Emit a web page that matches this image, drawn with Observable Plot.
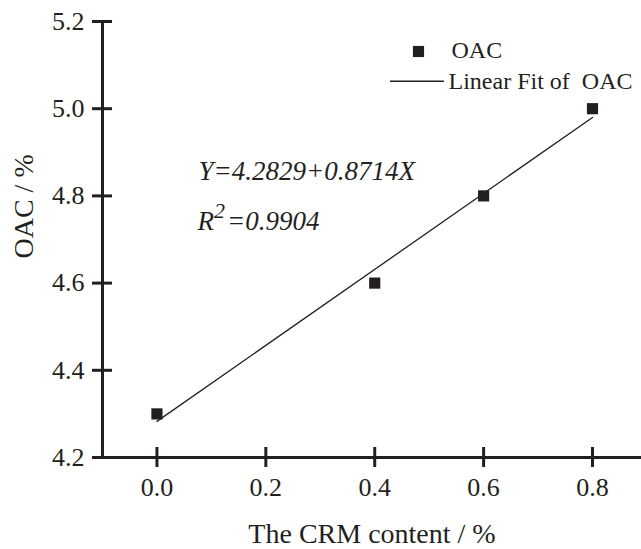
<!DOCTYPE html>
<html><head><meta charset="utf-8">
<script src="https://cdn.jsdelivr.net/npm/d3@7"></script>
<script src="https://cdn.jsdelivr.net/npm/@observablehq/plot@0.6"></script>
<style>body{margin:0;background:#fff;overflow:hidden} svg text{font-family:"Liberation Serif", serif !important;}</style>
</head><body><div id="chart"></div>
<script>
// ---- data ----
const crm = [0.0, 0.4, 0.6, 0.8];
const oac = [4.3, 4.6, 4.8, 5.0];
const xTicks = [0.0, 0.2, 0.4, 0.6, 0.8];
const yTicks = [4.2, 4.4, 4.6, 4.8, 5.0, 5.2];
const xDomain = [-0.1, 0.89];
const yDomain = [4.2, 5.2];
const equationText = "Y=4.2829+0.8714X";
const r2Parts = ["R", "2", "=0.9904"];
const legendLabels = ["OAC", "Linear Fit of\u00a0 OAC"];
const xLabel = "The CRM content / %";
const yLabel = "OAC / %";
// legend line placement (data units)
const legendLine = {x1: 0.429, x2: 0.528, y: 5.063};

const data = crm.map((x, i) => ({x, y: oac[i]}));
const ink = "#231f20";
const font = "Liberation Serif";
const T = {fontFamily: font, fill: ink, lineAnchor: "middle"};

const chart = Plot.plot({
  width: 641, height: 549,
  marginLeft: 102, marginRight: 0, marginTop: 21, marginBottom: 92,
  style: {fontFamily: font, background: "#fff", color: ink, overflow: "visible"},
  x: {domain: xDomain, label: null},
  y: {domain: yDomain, label: null},
  marks: [
    Plot.ruleY([yDomain[0]], {stroke: ink, strokeWidth: 3}),
    Plot.ruleX([xDomain[0]], {y1: yDomain[0], y2: yDomain[1], stroke: ink, strokeWidth: 3}),
    Plot.axisX({ticks: xTicks, tickSize: 20, dy: -10, tickFormat: () => "", strokeWidth: 3, stroke: ink}),
    Plot.axisX({ticks: xTicks, tickSize: 0, tickPadding: 20, tickFormat: d3.format(".1f"), fontSize: 26, fontFamily: font, fill: ink}),
    Plot.axisY({ticks: yTicks, tickSize: 20, dx: 10, tickFormat: () => "", strokeWidth: 3, stroke: ink}),
    Plot.axisY({ticks: yTicks, tickSize: 0, tickPadding: 18, tickFormat: d3.format(".1f"), fontSize: 26, fontFamily: font, fill: ink}),
    Plot.linearRegressionY(data, {x: "x", y: "y", ci: 0, stroke: ink, strokeWidth: 1.3}),
    Plot.dot(data, {x: "x", y: "y", symbol: "square", r: 6.3, fill: ink, stroke: null}),
    Plot.text([xLabel], {frameAnchor: "bottom", dy: 77, fontSize: 28, ...T}),
    Plot.text([yLabel], {frameAnchor: "left", dx: -78, dy: 19, rotate: -90, fontSize: 28, ...T}),
    Plot.text([equationText], {frameAnchor: "top-left", dx: 96, dy: 150, textAnchor: "start", fontSize: 27, fontStyle: "italic", ...T}),
    Plot.text([r2Parts.join("")], {frameAnchor: "top-left", dx: 95, dy: 200, textAnchor: "start", fontSize: 27, fontStyle: "italic", ...T}),
    // legend
    Plot.dot([0], {frameAnchor: "top-left", dx: 316, dy: 30, symbol: "square", r: 6.3, fill: ink, stroke: null}),
    Plot.text([legendLabels[0]], {frameAnchor: "top-left", dx: 349, dy: 29.3, textAnchor: "start", fontSize: 24, ...T}),
    Plot.ruleY([legendLine.y], {x1: legendLine.x1, x2: legendLine.x2, stroke: ink, strokeWidth: 1.5}),
    Plot.text([legendLabels[1]], {frameAnchor: "top-left", dx: 346, dy: 60.3, textAnchor: "start", fontSize: 24, ...T})
  ]
});

// superscript for R²
d3.select(chart).selectAll("text").filter(function() { return this.textContent === r2Parts.join(""); })
  .each(function() {
    const t = d3.select(this);
    t.text(null);
    t.append("tspan").text(r2Parts[0]);
    t.append("tspan").attr("font-size", 22).attr("dy", -12).text(r2Parts[1]);
    t.append("tspan").attr("dy", 12).attr("dx", 2).text(r2Parts[2]);
  });

document.getElementById("chart").appendChild(chart);
</script>
</body></html>
